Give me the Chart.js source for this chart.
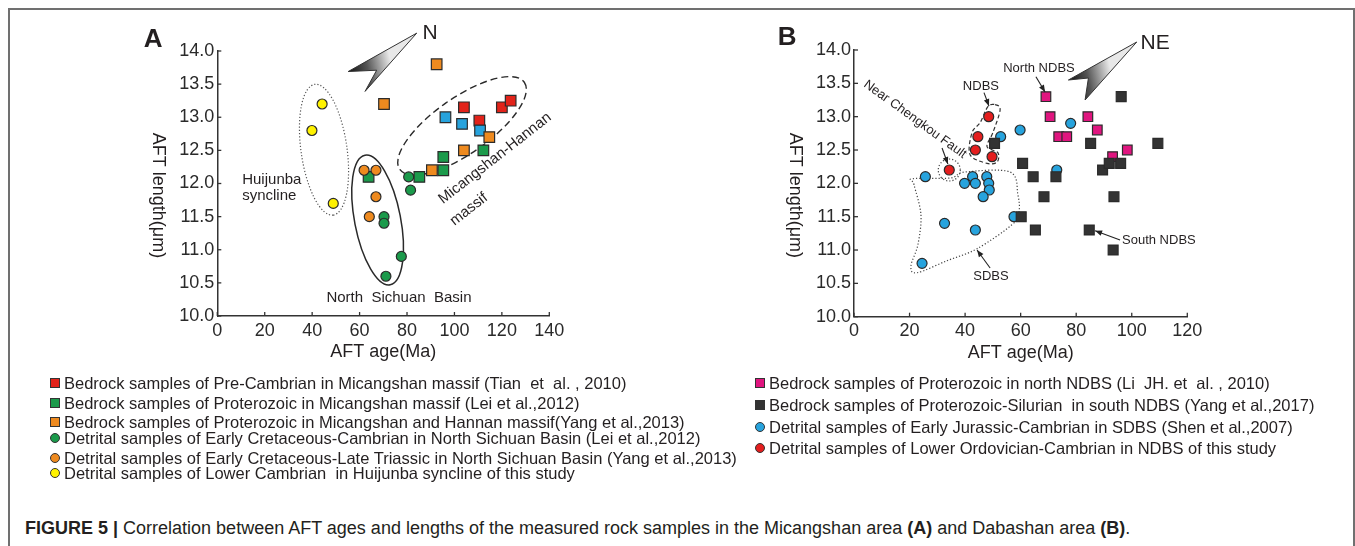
<!DOCTYPE html>
<html><head><meta charset="utf-8">
<script src="https://cdn.jsdelivr.net/npm/chart.js@4"></script>
<style>
body{margin:0;background:#fff;width:1355px;height:546px;overflow:hidden;position:relative;font-family:"Liberation Sans",Arial,sans-serif;color:#231f20}
#frame{position:absolute;left:8px;top:8px;width:1347px;height:600px;border:2px solid #707070;border-bottom:none;box-sizing:border-box}
.cw{position:absolute;top:0}
.lg{position:absolute;left:0;top:0}
.row{position:absolute;white-space:pre;font-size:16.5px;line-height:18px;height:18px}
.mk{position:absolute;width:8px;height:8px;border:1px solid #333;box-sizing:content-box}
.mk.c{border-radius:50%}
#caption{position:absolute;left:25px;top:517px;font-family:"Liberation Sans",Arial,sans-serif;font-size:18px;line-height:22px;white-space:pre;color:#231f20}
</style></head>
<body>
<div id="frame"></div>
<div class="cw" style="left:0"><canvas id="cA" width="620" height="380"></canvas></div>
<div class="cw" style="left:650px"><canvas id="cB" width="600" height="380"></canvas></div>
<div id="legend"></div>
<div id="caption"><b>FIGURE 5 |</b> Correlation between AFT ages and lengths of the measured rock samples in the Micangshan area <b>(A)</b> and Dabashan area <b>(B)</b>.</div>
<script>
// ---------------- DATA ----------------
const xTicksA = [0, 20, 40, 60, 80, 100, 120, 140];
const xTicksB = [0, 20, 40, 60, 80, 100, 120];
const yTicks  = [10.0, 10.5, 11.0, 11.5, 12.0, 12.5, 13.0, 13.5, 14.0];

// Panel A (Micangshan area)
const aTianX    = [104, 110.5, 120, 123.7];
const aTianY    = [13.15, 12.95, 13.15, 13.25];
const aLeiBedX  = [63.8, 85.2, 95.3, 95.3, 112.2];
const aLeiBedY  = [12.1, 12.1, 12.2, 12.4, 12.5];
const aYangBedX = [70.3, 92.5, 90.5, 104, 114.7];
const aYangBedY = [13.2, 13.8, 12.2, 12.5, 12.7];
const aBlueX    = [96.2, 103.2, 110.8];
const aBlueY    = [13.0, 12.9, 12.8];
const aLeiDetX  = [80.7, 81.5, 70.3, 70.3, 77.6, 71.1];
const aLeiDetY  = [12.1, 11.9, 11.5, 11.4, 10.9, 10.6];
const aYangDetX = [61.9, 66.9, 66.9, 64.1];
const aYangDetY = [12.2, 12.2, 11.8, 11.5];
const aHuiX     = [44.2, 39.9, 48.9];
const aHuiY     = [13.2, 12.8, 11.7];

// Panel B (Dabashan area)
const bLiX    = [69.1, 70.6, 73.7, 76.6, 84.2, 87.6, 93.1, 98.4];
const bLiY    = [13.3, 13.0, 12.7, 12.7, 13.0, 12.8, 12.4, 12.5];
const bYangX  = [50.6, 60.7, 64.5, 72.7, 68.4, 60.2, 65.3, 84.7, 85.2, 89.5, 91.9, 96.0, 93.6, 93.3, 96.2, 109.4];
const bYangY  = [12.6, 12.3, 12.1, 12.1, 11.8, 11.5, 11.3, 11.3, 12.6, 12.2, 12.3, 12.3, 11.8, 11.0, 13.3, 12.6];
const bShenX  = [25.7, 32.6, 24.5, 43.7, 39.8, 42.7, 43.7, 47.8, 48.5, 48.7, 46.5, 57.6, 59.8, 52.8, 73.0, 78.0];
const bShenY  = [12.1, 11.4, 10.8, 11.3, 12.0, 12.1, 12.0, 12.1, 12.0, 11.9, 11.8, 11.5, 12.8, 12.7, 12.2, 12.9];
const bStudyX = [48.5, 44.6, 43.7, 49.7, 34.3];
const bStudyY = [13.0, 12.7, 12.5, 12.4, 12.2];

const legendA = [
  "Bedrock samples of Pre-Cambrian in Micangshan massif (Tian  et  al. , 2010)",
  "Bedrock samples of Proterozoic in Micangshan massif (Lei et al.,2012)",
  "Bedrock samples of Proterozoic in Micangshan and Hannan massif(Yang et al.,2013)",
  "Detrital samples of Early Cretaceous-Cambrian in North Sichuan Basin (Lei et al.,2012)",
  "Detrital samples of Early Cretaceous-Late Triassic in North Sichuan Basin (Yang et al.,2013)",
  "Detrital samples of Lower Cambrian  in Huijunba syncline of this study"
];
const legendB = [
  "Bedrock samples of Proterozoic in north NDBS (Li  JH. et  al. , 2010)",
  "Bedrock samples of Proterozoic-Silurian  in south NDBS (Yang et al.,2017)",
  "Detrital samples of Early Jurassic-Cambrian in SDBS (Shen et al.,2007)",
  "Detrital samples of Lower Ordovician-Cambrian in NDBS of this study"
];

// ---------------- STYLES ----------------
const C = {red:'#e2231a', green:'#1b9a4b', orange:'#ee8a1f', blue:'#27a3dd', yellow:'#fff200',
           magenta:'#e0157f', dark:'#333333', red2:'#e41e1e'};
const FONT = '"Liberation Sans", Arial, sans-serif';

function pts(xs, ys){ return xs.map((x,i)=>({x:x, y:ys[i]})); }
function ds(label, xs, ys, color, shape, r){
  return {label, data:pts(xs,ys), pointStyle:shape, pointRadius:r, pointHoverRadius:r,
          backgroundColor:color, borderColor:'#2b2b2b', borderWidth:1.2, showLine:false};
}

// ---------------- OVERLAY HELPERS ----------------
function P(ch,x,y){ return [ch.scales.x.getPixelForValue(x), ch.scales.y.getPixelForValue(y)]; }
function strokeStyle(ctx,o){
  ctx.setLineDash(o.dash||[]); ctx.lineWidth=o.w||1.2; ctx.strokeStyle=o.color||'#333'; ctx.lineCap=o.cap||'butt';
}
function smoothClosed(ctx, p){
  const n=p.length; ctx.moveTo(p[0][0],p[0][1]);
  for(let i=0;i<n;i++){
    const p0=p[(i-1+n)%n],p1=p[i],p2=p[(i+1)%n],p3=p[(i+2)%n];
    ctx.bezierCurveTo(p1[0]+(p2[0]-p0[0])/6, p1[1]+(p2[1]-p0[1])/6,
                      p2[0]-(p3[0]-p1[0])/6, p2[1]-(p3[1]-p1[1])/6, p2[0], p2[1]);
  }
  ctx.closePath();
}
function arrow(ctx, a, b){
  ctx.save(); ctx.setLineDash([]); ctx.strokeStyle='#222'; ctx.fillStyle='#222'; ctx.lineWidth=1.1;
  ctx.beginPath(); ctx.moveTo(a[0],a[1]); ctx.lineTo(b[0],b[1]); ctx.stroke();
  const ang=Math.atan2(b[1]-a[1], b[0]-a[0]), L=7, H=2.8;
  ctx.beginPath(); ctx.moveTo(b[0],b[1]);
  ctx.lineTo(b[0]-L*Math.cos(ang)+H*Math.sin(ang), b[1]-L*Math.sin(ang)-H*Math.cos(ang));
  ctx.lineTo(b[0]-L*Math.cos(ang)-H*Math.sin(ang), b[1]-L*Math.sin(ang)+H*Math.cos(ang));
  ctx.closePath(); ctx.fill(); ctx.restore();
}
function compass(ctx, ch, c){
  const t=P(ch,...c.tip), b1=P(ch,...c.b1), n=P(ch,...c.notch), b2=P(ch,...c.b2);
  ctx.save();
  const g=ctx.createLinearGradient(b1[0],b1[1],(t[0]+b2[0])/2,(t[1]+b2[1])/2);
  g.addColorStop(0,'#111'); g.addColorStop(0.45,'#555'); g.addColorStop(1,'#e8e8e8');
  ctx.beginPath(); ctx.moveTo(t[0],t[1]); ctx.lineTo(b1[0],b1[1]); ctx.lineTo(n[0],n[1]); ctx.lineTo(b2[0],b2[1]); ctx.closePath();
  ctx.fillStyle=g; ctx.fill(); ctx.strokeStyle='#333'; ctx.lineWidth=1; ctx.stroke();
  ctx.restore();
}
function text(ctx, ch, o){
  const [x,y]=P(ch,o.x,o.y);
  ctx.save(); ctx.translate(x,y); if(o.rot) ctx.rotate(o.rot*Math.PI/180);
  ctx.font=(o.bold?'bold ':'')+o.size+'px '+FONT; ctx.fillStyle=o.color||'#231f20';
  ctx.textAlign=o.align||'center'; ctx.textBaseline='middle'; ctx.fillText(o.t,0,0); ctx.restore();
}

const ANN = {
  cA: {
    ellipses:[
      {x:45.0, y:12.51, rx:66, ry:23, rot:82, dash:[1.2,2], w:1.2, color:'#555'},
      {x:67.6, y:11.45, rx:66, ry:23, rot:79, w:1.5, color:'#2a2a2a'},
      {x:103.2, y:12.87, rx:76, ry:28, rot:-35, dash:[7,4], w:1.4, color:'#2a2a2a'}
    ],
    paths:[],
    compass:{tip:[84.1,14.27], b1:[55.2,13.69], notch:[67.2,13.71], b2:[62.3,13.39]},
    texts:[
      {t:'A', x:-27.1, y:14.17, size:26, bold:true},
      {t:'N', x:89.7, y:14.27, size:21},
      {t:'Huijunba', x:10.5, y:12.05, size:15, align:'left'},
      {t:'syncline', x:10.5, y:11.81, size:15, align:'left'},
      {t:'North  Sichuan  Basin', x:76.6, y:10.27, size:15},
      {t:'Micangshan-Hannan', x:117.1, y:12.38, size:15, rot:-38},
      {t:'massif', x:106.1, y:11.61, size:15, rot:-38}
    ],
    arrows:[], circles:[]
  },
  cB: {
    ellipses:[],
    circles:[{x:34.3, y:12.2, r:11, dash:[1.2,2], w:1.2, color:'#444'}],
    paths:[
      {p:[[50.8,13.18],[52.6,13.10],[50.0,12.76],[47.9,12.55],[51.8,12.46],[51.5,12.32],[47.9,12.30],[41.8,12.43],[42.5,12.76],[45.4,12.91],[48.2,13.15]], dash:[4,2.5], w:1.2, color:'#333'},
      {p:[[21.2,12.07],[34.6,12.08],[40.0,12.17],[56.2,12.17],[59.0,11.83],[59.4,11.57],[56.9,11.38],[44.3,11.02],[33.5,10.84],[22.7,10.66],[20.5,10.76],[23.0,11.08],[24.1,11.53],[21.6,11.98]], dash:[1.2,2], w:1.2, color:'#444'}
    ],
    compass:{tip:[101.8,14.12], b1:[77.2,13.55], notch:[84.4,13.58], b2:[83.2,13.25]},
    texts:[
      {t:'B', x:-24.1, y:14.18, size:26, bold:true},
      {t:'NE', x:108.4, y:14.1, size:21},
      {t:'North NDBS', x:66.6, y:13.73, size:13},
      {t:'NDBS', x:45.7, y:13.46, size:13},
      {t:'Near Chengkou Fault', x:22.0, y:12.96, size:13, rot:36},
      {t:'SDBS', x:49.3, y:10.6, size:13},
      {t:'South NDBS', x:96.5, y:11.14, size:13, align:'left'}
    ],
    arrows:[
      {a:[65.5,13.6], b:[68.8,13.37]},
      {a:[46.8,13.36], b:[48.6,13.16]},
      {a:[31.7,12.53], b:[33.8,12.29]},
      {a:[49.0,10.73], b:[44.3,11.0]},
      {a:[95.8,11.15], b:[86.8,11.29]}
    ]
  }
};

const overlay = {
  id:'overlay',
  beforeDatasetsDraw(ch){
    const a=ANN[ch.canvas.id], ctx=ch.ctx;
    a.ellipses.forEach(e=>{ const [cx,cy]=P(ch,e.x,e.y); ctx.save(); strokeStyle(ctx,e);
      ctx.beginPath(); ctx.ellipse(cx,cy,e.rx,e.ry,e.rot*Math.PI/180,0,Math.PI*2); ctx.stroke(); ctx.restore(); });
    a.paths.forEach(o=>{ ctx.save(); strokeStyle(ctx,o); ctx.beginPath(); smoothClosed(ctx,o.p.map(q=>P(ch,q[0],q[1]))); ctx.stroke(); ctx.restore(); });
    a.circles.forEach(o=>{ const [cx,cy]=P(ch,o.x,o.y); ctx.save(); strokeStyle(ctx,o); ctx.beginPath(); ctx.arc(cx,cy,o.r,0,Math.PI*2); ctx.stroke(); ctx.restore(); });
  },
  afterDraw(ch){
    const a=ANN[ch.canvas.id], ctx=ch.ctx, ca=ch.chartArea;
    // inward tick marks
    ctx.save(); ctx.strokeStyle='#333'; ctx.lineWidth=1.3; ctx.setLineDash([]);
    ch.scales.x.ticks.forEach(t=>{ const x=ch.scales.x.getPixelForValue(t.value); ctx.beginPath(); ctx.moveTo(x,ca.bottom); ctx.lineTo(x,ca.bottom-4); ctx.stroke(); });
    ch.scales.y.ticks.forEach(t=>{ const y=ch.scales.y.getPixelForValue(t.value); ctx.beginPath(); ctx.moveTo(ca.left,y); ctx.lineTo(ca.left+4,y); ctx.stroke(); });
    ctx.restore();
    // y axis title, reading top to bottom
    ctx.save(); ctx.translate(ca.left-59, (ca.top+ca.bottom)/2+12); ctx.rotate(Math.PI/2);
    ctx.font='18px '+FONT; ctx.fillStyle='#231f20'; ctx.textAlign='center'; ctx.textBaseline='middle';
    ctx.fillText('AFT length(\u03bcm)',0,0); ctx.restore();
    compass(ctx,ch,a.compass);
    a.arrows.forEach(o=>arrow(ctx,P(ch,...o.a),P(ch,...o.b)));
    a.texts.forEach(o=>text(ctx,ch,o));
  }
};

function scales(xTicks, xmax){
  const tickFont={family:FONT, size:18};
  return {
    x:{type:'linear', min:0, max:xmax,
       afterBuildTicks:s=>{ s.ticks=xTicks.map(v=>({value:v})); },
       afterFit:s=>{ s.height=50; },
       grid:{display:true, drawOnChartArea:false, drawTicks:false},
       border:{display:true, color:'#333', width:1.5},
       ticks:{font:tickFont, color:'#2a2a2a', padding:4, autoSkip:false, maxRotation:0, callback:v=>String(v)},
       title:{display:true, text:'AFT age(Ma)', font:{family:FONT,size:18}, color:'#231f20', padding:{top:0,bottom:3}}},
    y:{type:'linear', min:10, max:14,
       afterBuildTicks:s=>{ s.ticks=yTicks.map(v=>({value:v})); },
       afterFit:s=>{ s.width=60; },
       grid:{display:true, drawOnChartArea:false, drawTicks:false},
       border:{display:true, color:'#333', width:1.5},
       ticks:{font:tickFont, color:'#2a2a2a', padding:3, autoSkip:false, callback:v=>Number(v).toFixed(1)}}
  };
}
const common = {responsive:false, animation:false, events:[],
  plugins:{legend:{display:false}, tooltip:{enabled:false}}};

new Chart(document.getElementById('cA'), {
  type:'scatter',
  data:{datasets:[
    ds(legendA[5], aHuiX, aHuiY, C.yellow, 'circle', 5),
    ds(legendA[4], aYangDetX, aYangDetY, C.orange, 'circle', 5),
    ds(legendA[3], aLeiDetX, aLeiDetY, C.green, 'circle', 5),
    ds(legendA[2], aYangBedX, aYangBedY, C.orange, 'rect', 7.5),
    ds('blue bedrock', aBlueX, aBlueY, C.blue, 'rect', 7.5),
    ds(legendA[0], aTianX, aTianY, C.red, 'rect', 7.5),
    ds(legendA[1], aLeiBedX, aLeiBedY, C.green, 'rect', 7.5)
  ]},
  options:Object.assign({}, common, {layout:{padding:{left:157.3, top:51, right:70.7, bottom:14}}, scales:scales(xTicksA,140)}),
  plugins:[overlay]
});

new Chart(document.getElementById('cB'), {
  type:'scatter',
  data:{datasets:[
    ds(legendB[1], bYangX, bYangY, C.dark, 'rect', 7),
    ds(legendB[0], bLiX, bLiY, C.magenta, 'rect', 6.8),
    ds(legendB[2], bShenX, bShenY, C.blue, 'circle', 5),
    ds(legendB[3], bStudyX, bStudyY, C.red2, 'circle', 5)
  ]},
  options:Object.assign({}, common, {layout:{padding:{left:144, top:50, right:62.7, bottom:13.3}}, scales:scales(xTicksB,120)}),
  plugins:[overlay]
});

// ---------------- HTML LEGENDS ----------------
function legend(labels, colors, shapes, left, rows){
  const box=document.getElementById('legend');
  labels.forEach((t,i)=>{
    const m=document.createElement('div'); m.className='mk'+(shapes[i]==='c'?' c':'');
    m.style.left=left+'px'; m.style.top=(rows[i]-5)+'px'; m.style.background=colors[i];
    box.appendChild(m);
    const r=document.createElement('div'); r.className='row'; r.textContent=t;
    r.style.left=(left+14)+'px'; r.style.top=(rows[i]-9)+'px'; box.appendChild(r);
  });
}
legend(legendA, [C.red,C.green,C.orange,C.green,C.orange,C.yellow], ['s','s','s','c','c','c'], 50, [383,403,422,438,458,473]);
legend(legendB, [C.magenta,C.dark,C.blue,C.red2], ['s','s','c','c'], 755, [383,405,427,448]);
</script>
</body></html>
